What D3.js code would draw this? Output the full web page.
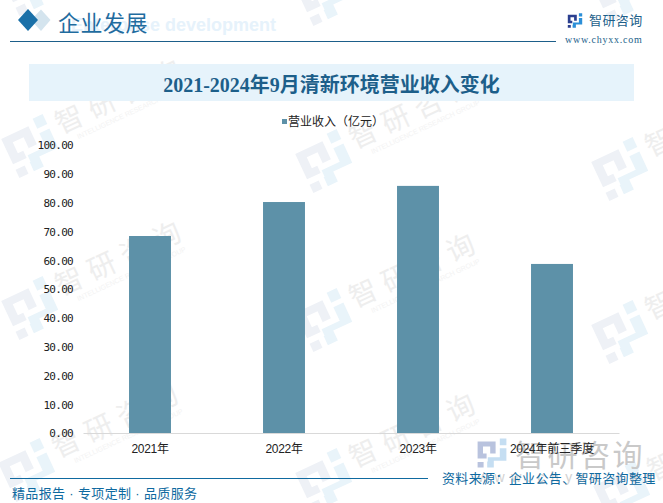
<!DOCTYPE html>
<html>
<head>
<meta charset="utf-8">
<script src="https://cdn.jsdelivr.net/npm/d3@7"></script>
<style>
  html, body { margin: 0; padding: 0; background: #fff; overflow: hidden; }
  svg { display: block; }
  text { font-family: "Liberation Sans", "Noto Sans CJK SC", sans-serif; }
</style>
</head>
<body>
<svg id="chart" width="663" height="503"></svg>
<script>
const categories = ['2021年', '2022年', '2023年', '2024年前三季度'];
const revenue = [68.4, 80.2, 85.8, 58.7];
const yTicks = [0, 10, 20, 30, 40, 50, 60, 70, 80, 90, 100];
const seriesName = '营业收入（亿元）';
const chartTitle = '2021-2024年9月清新环境营业收入变化';

const svg = d3.select('#chart');
const margin = { top: 145, right: 44, bottom: 70, left: 83 };
const width = 663;
const height = 503;
const innerWidth = width - margin.left - margin.right;
const innerHeight = height - margin.top - margin.bottom;

function drawLogo(sel, leftFill, rightFill) {
  sel.append('path')
    .attr('d', 'M-24,-19H6V1H-9V9H-24ZM-15,-11V1H-3V-11ZM-24,15H-14V24H-24Z')
    .attr('fill', leftFill)
    .attr('fill-rule', 'evenodd');
  sel.append('path')
    .attr('d', 'M13,-24H24V-13H13ZM13,-8H24V13H3V24H-8V14H-7V7H13Z')
    .attr('fill', rightFill);
}

// watermark layer
const logoOnly = [[31, -16], [325, -6], [621, -10]];
const stamped = [[31, 146], [325, 161], [621, 169], [31, 308], [325, 320], [621, 332], [28, 470], [325, 480], [623, 493]];
const wm = svg.append('g');
logoOnly.concat(stamped).forEach(([mx, my]) => {
  drawLogo(wm.append('g').attr('transform', `translate(${mx},${my}) rotate(-25)`), '#eef1f6', '#e9f4fa');
});
stamped.forEach(([mx, my]) => {
  const m = wm.append('g').attr('transform', `translate(${mx},${my}) rotate(-25)`);
  m.append('text').attr('x', 32).attr('y', 2)
    .attr('font-size', 28).attr('letter-spacing', 7.7).attr('fill', '#eeeeee')
    .text('智研咨询');
  m.append('text').attr('x', 46).attr('y', 14)
    .attr('font-size', 7).attr('fill', '#f3f3f3')
    .attr('textLength', 119)
    .text('INTELLIGENCE RESEARCH GROUP');
});

// header
const header = svg.append('g');
header.append('path').attr('d', 'M41,9.5 L50.5,20 L41,31 L31,20 Z').attr('fill', '#d4e4ee');
header.append('path').attr('d', 'M28,9 L38,20 L28,31 L18,20 Z').attr('fill', '#1a70a8');
header.append('text').attr('x', 276).attr('y', 31)
  .attr('text-anchor', 'end')
  .attr('font-size', 18).attr('font-weight', 'bold').attr('fill', '#e6f2fb')
  .text('Enterprise development');
header.append('text').attr('x', 58).attr('y', 31)
  .attr('font-size', 22).attr('letter-spacing', 0.5).attr('fill', '#1f6c9f')
  .style('font-family', '"Noto Sans CJK SC"')
  .text('企业发展');
header.append('line').attr('x1', 10).attr('x2', 556).attr('y1', 41.5).attr('y2', 41.5)
  .attr('stroke', '#1d5f8a').attr('stroke-width', 1);

// logo
drawLogo(svg.append('g').attr('transform', 'translate(575,20.5) scale(0.3)'), '#2b3f8f', '#2c8fd8');
svg.append('text').attr('x', 589).attr('y', 25)
  .attr('font-size', 13).attr('letter-spacing', 0.4).attr('fill', '#1d5f8a').text('智研咨询');
svg.append('text').attr('x', 565).attr('y', 43)
  .attr('font-size', 10).attr('letter-spacing', 0.75).attr('fill', '#1d5f8a')
  .style('font-family', '"Liberation Serif"').text('www.chyxx.com');

// title band
svg.append('rect').attr('x', 29).attr('y', 64).attr('width', 605).attr('height', 37).attr('fill', '#e6f3fb');
svg.append('text').attr('x', 331.5).attr('y', 92)
  .attr('text-anchor', 'middle').attr('font-size', 20).attr('font-weight', 'bold').attr('fill', '#1d5f8a')
  .style('font-family', '"Liberation Serif", "Noto Sans CJK SC"')
  .text(chartTitle);

// legend
svg.append('rect').attr('x', 282).attr('y', 119).attr('width', 5).attr('height', 5).attr('fill', '#5d91a8');
svg.append('text').attr('x', 288).attr('y', 126)
  .attr('font-size', 12).attr('fill', '#222').text(seriesName);

// big stamp behind the source note
const stamp = svg.append('g');
drawLogo(stamp.append('g').attr('transform', 'translate(492,453) scale(0.6)'), '#b9c3de', '#c5def2');
stamp.append('text').attr('x', 515).attr('y', 466)
  .attr('font-size', 30).attr('letter-spacing', 2.5).attr('fill', '#c9c9c9')
  .text('智研咨询');
stamp.append('text').attr('x', 478).attr('y', 482)
  .attr('font-size', 14).attr('letter-spacing', 6.5).attr('fill', '#d2d2d2')
  .text('www.chyxx.com');

const g = svg.append('g').attr('transform', `translate(${margin.left},${margin.top})`);

const x = d3.scaleBand().domain(categories).range([0, innerWidth]);
const y = d3.scaleLinear().domain([0, 100]).range([innerHeight, 0]);
const barWidth = x.bandwidth() * 0.313;

g.selectAll('.bar')
  .data(revenue)
  .join('rect')
  .attr('class', 'bar')
  .attr('x', (d, i) => x(categories[i]) + (x.bandwidth() - barWidth) / 2)
  .attr('y', d => y(d))
  .attr('width', barWidth)
  .attr('height', d => innerHeight - y(d))
  .attr('fill', '#5d91a8');

const yAxis = g.append('g')
  .call(d3.axisLeft(y).tickValues(yTicks).tickSize(0).tickPadding(10).tickFormat(d => d3.format('.2f')(d)));
yAxis.select('.domain').remove();
yAxis.selectAll('text').attr('font-size', 11).attr('fill', '#222')
  .attr('dy', '0.36em')
  .style('font-family', '"DejaVu Sans Mono"').attr('letter-spacing', -0.7);

const xAxis = g.append('g').attr('transform', `translate(0,${innerHeight})`)
  .call(d3.axisBottom(x).tickSize(0).tickPadding(11));
xAxis.select('.domain').attr('stroke', '#d9d9d9');
xAxis.selectAll('text').attr('font-size', 12).attr('letter-spacing', -0.3).attr('fill', '#222');

// footer
const footer = svg.append('g');
footer.append('line').attr('x1', 10).attr('x2', 428).attr('y1', 478.5).attr('y2', 478.5)
  .attr('stroke', '#0f6aa0').attr('stroke-width', 1);
footer.append('text').attr('x', 12).attr('y', 498)
  .attr('font-size', 13).attr('letter-spacing', 0.35).attr('fill', '#0f6aa0')
  .text('精品报告 · 专项定制 · 品质服务');
footer.append('text').attr('x', 442).attr('y', 483)
  .attr('font-size', 13).attr('letter-spacing', 0.35).attr('fill', '#0f6aa0')
  .text('资料来源：企业公告、智研咨询整理');
</script>
</body>
</html>
